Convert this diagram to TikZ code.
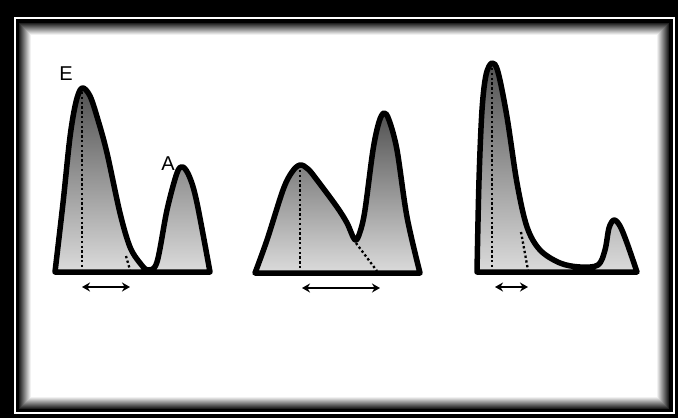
\documentclass[tikz,border=0pt]{standalone}
\usepackage{fontspec}
\setmainfont{Liberation Sans}
\usepackage{tikz}
\usetikzlibrary{arrows.meta, positioning}

\begin{document}
\begin{tikzpicture}[x=1pt, y=-1pt,
    wave/.style={line width=5.5pt, line join=round, top color=black!68, bottom color=black!14},
    guide/.style={line width=2.3pt, dash pattern=on 2.3pt off 2.5pt},
    span/.style={line width=2.2pt, {Stealth[length=8pt,width=9pt]}-{Stealth[length=8pt,width=9pt]}},
    peaklabel/.style={font=\fontsize{20}{20}\selectfont, inner sep=0pt}]
  \useasboundingbox (0,0) rectangle (678,418);

  % frame
  \fill[black] (0,0) rectangle (678,418);
  \fill[white] (14,17) rectangle (675,414);
  \fill[black] (16,19) rectangle (673,412);
  \fill[white] (19,23) rectangle (669,409);
  \foreach \i in {0,...,11}{
    \pgfmathsetmacro{\shd}{88-7.5*\i}
    \draw[black!\shd, line width=1pt] (19.5+\i,23.5+\i) rectangle (668.5-\i,408.5-\i);
  }

  % normal filling
  \draw[guide] (82,90) -- (130,272);
  \draw[wave] plot[smooth, tension=0.55] coordinates {(55,272) (63,203) (70,137) (76,102) (82,88)
    (90,96) (98,120) (107,153) (120,213) (130,247) (140,263) (148,270) (157,262)
    (167,210) (177,173) (183,167) (190,178) (197,203) (210,272)} -- cycle;
  \draw[guide] (82,92) -- (82,270);
  \draw[guide] (126,256) -- (130,270);
  \coordinate (n1) at (82,287);
  \coordinate (n2) at (130,287);
  \draw[span] (n1) -- (n2);
  \node[peaklabel] (lblE) at (66,74) {E};
  \node[peaklabel] (lblA) at (168,164) {A};

  % impaired relaxation
  \draw[guide] (300,168) -- (377,271);
  \draw[wave] plot[smooth, tension=0.55] coordinates {(255,273) (267,240) (283,190) (292,172) (300,165)
    (308,169) (317,180) (337,207) (347,223) (355,240) (360,232) (365,210) (373,150)
    (379,122) (384,113) (389,120) (397,150) (407,217) (420,273)} -- cycle;
  \draw[guide] (300,170) -- (300,271);
  \draw[guide] (356,243) -- (377,271);
  \coordinate (m1) at (302,288);
  \coordinate (m2) at (380,288);
  \draw[span] (m1) -- (m2);

  % restrictive filling
  \draw[guide] (492,66) -- (528,271);
  \draw[wave] plot[smooth, tension=0.55] coordinates {(477,272) (479,180) (482,110) (486,75) (492,63)
    (498,72) (507,117) (517,183) (527,227) (540,250) (560,263) (580,267) (598,265)
    (605,250) (609,228) (614,220) (620,226) (627,243) (637,272)} -- cycle;
  \draw[guide] (492,68) -- (492,270);
  \draw[guide] (521,232) -- (528,270);
  \coordinate (r1) at (495,287);
  \coordinate (r2) at (528,287);
  \draw[span] (r1) -- (r2);

\end{tikzpicture}
\end{document}
